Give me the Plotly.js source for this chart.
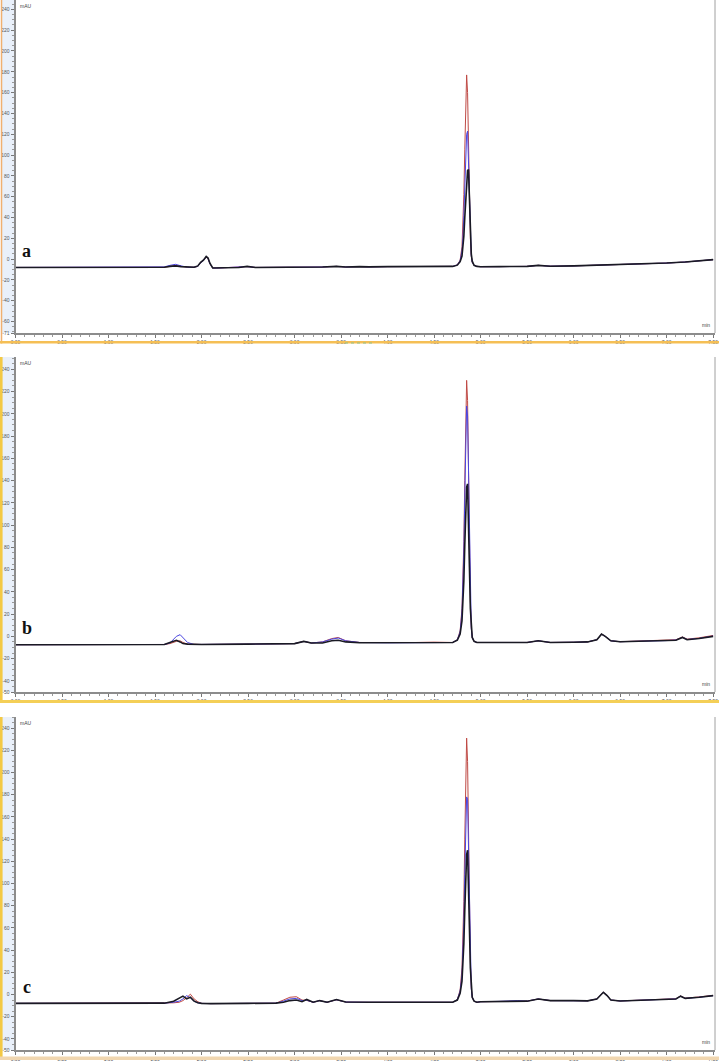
<!DOCTYPE html>
<html>
<head>
<meta charset="utf-8">
<script src="https://cdn.plot.ly/plotly-3.0.1.min.js"></script>
<style>
  html, body { margin: 0; padding: 0; background: #fff; }
  #chart { width: 719px; height: 1062px; }
</style>
</head>
<body>
<div id="chart"></div>
<script>
// retention time (min) grids, one per panel
var tA = [0, 0.5, 1.0, 1.5, 1.6, 1.66, 1.72, 1.78, 1.85, 1.92, 1.96, 1.99, 2.02, 2.05, 2.07, 2.09, 2.12, 2.16,
  2.25, 2.4, 2.49, 2.58, 2.8, 3.0, 3.3, 3.45, 3.55, 3.7, 3.8, 4.0, 4.2, 4.4, 4.6, 4.7, 4.75, 4.78, 4.8,
  4.81, 4.82, 4.83, 4.84, 4.85, 4.86, 4.87, 4.88, 4.89, 4.9, 4.91, 4.93, 4.96, 5.0, 5.2, 5.5, 5.62, 5.75,
  6.0, 6.25, 6.5, 6.75, 7.0, 7.2, 7.35, 7.5];
var redA = [-8, -8, -8, -8, -7.8, -7, -6, -7, -7.8, -7.8, -7, -3.5, -1.5, 2, 0.5, -4.5, -8.5, -8.6,
  -8.3, -8, -7.2, -8, -8, -7.8, -7.6, -7, -7.6, -7.2, -7.5, -7.2, -7.3, -7.2, -7.2, -7, -5.5, -1, 12,
  30, 62, 105, 150, 177, 160, 110, 55, 20, 3, -3, -6, -7, -7.3, -7.2, -7, -6, -6.8,
  -6.5, -6, -5.5, -4.8, -3.8, -2.8, -1.8, -0.5];
var blueA = [-8, -8, -8, -8, -7.5, -6, -5, -6.5, -7.8, -7.8, -7, -3.5, -1.5, 2.3, 0.5, -4.5, -8.5, -8.6,
  -8.3, -8, -7.2, -8, -8, -7.8, -7.6, -7, -7.6, -7.2, -7.5, -7.2, -7.3, -7.2, -7.2, -7, -5.5, -1.5, 8,
  20, 42, 72, 102, 120, 123, 95, 50, 18, 3, -3, -6, -7, -7.3, -7.2, -7, -6, -6.8,
  -6.5, -6, -5.5, -4.8, -3.8, -2.8, -1.8, -0.5];
var blackA = [-8, -8, -8, -8, -7.8, -7, -6.5, -7.2, -7.8, -7.8, -6.5, -3, -1, 2.5, 1, -4, -8.5, -8.6,
  -8.3, -8, -7, -8, -8, -7.8, -7.6, -7, -7.6, -7.2, -7.5, -7.2, -7.3, -7.2, -7.2, -7, -5.8, -2.5, 3,
  10, 22, 40, 60, 76, 85, 86, 55, 22, 5, -2, -6, -7, -7.3, -7.2, -7, -6, -6.8,
  -6.5, -6, -5.5, -4.8, -3.8, -2.8, -1.8, -0.5];

var tB = [0, 0.5, 1.0, 1.5, 1.6, 1.66, 1.7, 1.73, 1.77, 1.8, 1.85, 1.92, 2.0, 2.5, 3.0, 3.1, 3.18, 3.3,
  3.4, 3.47, 3.55, 3.7, 4.0, 4.3, 4.5, 4.6, 4.7, 4.75, 4.78, 4.8, 4.81, 4.82, 4.83, 4.84, 4.85, 4.86,
  4.87, 4.88, 4.89, 4.9, 4.91, 4.93, 4.96, 5.0, 5.2, 5.4, 5.5, 5.62, 5.75, 6.0, 6.15, 6.25, 6.3, 6.34,
  6.4, 6.5, 6.75, 7.0, 7.1, 7.17, 7.22, 7.35, 7.5];
var redB = [-7.5, -7.5, -7.5, -7.5, -7.3, -6.5, -5, -4.5, -4, -5.5, -7, -7.3, -7.3, -7, -6.5, -4.5, -6, -5,
  -2, -1, -4, -5.5, -5.8, -5.5, -5.2, -5.5, -5.5, -3, 5, 25, 48, 85, 140, 195, 230, 212,
  150, 80, 32, 8, -1, -4.5, -5.5, -5.5, -5.5, -5, -5.5, -4, -5.5, -5.3, -5, -3, 2, 0,
  -4, -4.8, -4.3, -3.5, -3, -0.5, -2.5, -1.3, 0.8];
var blueB = [-7.5, -7.5, -7.5, -7.5, -7.3, -6, -3, 0, 1.5, -1, -5.5, -7.3, -7.3, -7, -6.5, -4.5, -6, -5,
  -2.5, -1.5, -4, -5.5, -5.8, -5.5, -5.2, -5.5, -5.5, -3, 4, 22, 42, 75, 125, 175, 207, 198,
  145, 78, 30, 7, -1, -4.5, -5.5, -5.5, -5.5, -5, -5.5, -4, -5.5, -5.3, -5, -3, 2, 0,
  -4, -4.8, -4.5, -3.8, -3.3, -0.8, -2.8, -1.8, 0.3];
var blackB = [-7.5, -7.5, -7.5, -7.5, -7.3, -5.5, -4, -3.5, -5, -6.5, -7, -7.3, -7.3, -7, -6.5, -4.5, -6, -6,
  -4, -3.5, -5, -5.8, -5.8, -5.5, -5.2, -5.5, -5.5, -3.5, 2, 14, 28, 50, 82, 115, 134, 137,
  110, 62, 25, 6, -1, -4.5, -5.5, -5.5, -5.5, -5, -5.5, -4, -5.5, -5.3, -5, -3, 2, 0,
  -4, -4.8, -4.5, -4, -3.5, -1, -3, -2, 0];

var tC = [0, 0.5, 1.0, 1.5, 1.6, 1.7, 1.76, 1.8, 1.84, 1.88, 1.92, 1.96, 2.0, 2.1, 2.5, 2.8, 2.88, 2.95,
  3.02, 3.08, 3.13, 3.2, 3.27, 3.35, 3.45, 3.55, 3.8, 4.2, 4.6, 4.7, 4.75, 4.78, 4.8, 4.81, 4.82, 4.83,
  4.84, 4.85, 4.86, 4.87, 4.88, 4.89, 4.9, 4.91, 4.93, 4.96, 5.0, 5.2, 5.4, 5.5, 5.62, 5.75, 6.0, 6.15,
  6.25, 6.3, 6.32, 6.36, 6.4, 6.5, 6.75, 7.0, 7.1, 7.15, 7.2, 7.35, 7.5];
var redC = [-8, -8, -8, -8, -7.8, -7.5, -7, -5.5, -3, 0.3, -4, -6.5, -8, -8.2, -8, -7.8, -5, -2.5,
  -2, -5, -5.3, -7, -5.5, -7, -4.8, -6.8, -7, -6.8, -6.8, -7, -4.5, 4, 24, 47, 84, 140,
  196, 231, 210, 148, 78, 30, 6, -2.5, -6, -7, -6.5, -6.2, -5.5, -6, -4, -5.5, -5.5, -5.7,
  -4, 1, 2, -1, -5, -5.8, -5, -4.3, -3.8, -1.3, -3.3, -2.2, -0.8];
var blueC = [-8, -8, -8, -8, -7.8, -7, -6, -4, -1, -3, -6, -7.5, -8, -8.2, -8, -7.8, -6, -4,
  -3.5, -5.5, -5.2, -7, -5.5, -7, -4.7, -6.8, -7, -6.8, -6.8, -7, -4.5, 3, 18, 36, 65, 108,
  152, 178, 176, 130, 70, 27, 5, -2.5, -6, -7, -6.5, -6.2, -5.5, -6, -4, -5.5, -5.5, -5.7,
  -4, 1, 2, -1, -5, -5.8, -5, -4.5, -4, -1.5, -3.5, -2.5, -1];
var blackC = [-8, -8, -8, -8, -7.8, -6, -3, -1.5, -4, -2.5, -6, -7.5, -8, -8.2, -8, -7.8, -7, -5.5,
  -5, -6.5, -4.5, -7, -5.5, -7, -4.5, -6.8, -7, -6.8, -6.8, -7, -5, 1, 12, 25, 46, 76,
  108, 126, 130, 105, 60, 24, 5, -2.5, -6, -7, -6.5, -6.2, -5.5, -6, -4, -5.5, -5.5, -5.7,
  -4, 1, 2, -1, -5, -5.8, -5, -4.5, -4, -1.5, -3.5, -2.5, -1];

var xTicks = [0, 0.5, 1, 1.5, 2, 2.5, 3, 3.5, 4, 4.5, 5, 5.5, 6, 6.5, 7, 7.5];
var yTicksA = [-71, -60, -40, -20, 0, 20, 40, 60, 80, 100, 120, 140, 160, 180, 200, 220, 240];
var yTicksBC = [-50, -40, -20, 0, 20, 40, 60, 80, 100, 120, 140, 160, 180, 200, 220, 240];
var panelLetters = ['a', 'b', 'c'];

var RED = '#bf4a45', BLUE = '#4a45e0', BLACK = '#1a1a24';
var W = 719, H = 1062;
function px(p) { return p / W; }
function py(p) { return 1 - p / H; }

var panels = [
  {t: tA, r: redA, b: blueA, k: blackA, top: 0, bot: 333, range: [-71, 249], ticks: yTicksA},
  {t: tB, r: redB, b: blueB, k: blackB, top: 357, bot: 692, range: [-50, 251], ticks: yTicksBC},
  {t: tC, r: redC, b: blueC, k: blackC, top: 717, bot: 1050, range: [-50, 250], ticks: yTicksBC}
];

var data = [];
var layout = {
  width: W, height: H,
  margin: {l: 0, r: 0, t: 0, b: 0},
  paper_bgcolor: '#fff', plot_bgcolor: '#fff',
  showlegend: false,
  font: {family: 'Liberation Sans, Arial, sans-serif', size: 5, color: '#555'},
  shapes: [], annotations: []
};

panels.forEach(function (p, i) {
  var n = i === 0 ? '' : String(i + 1);
  var xa = 'x' + n, ya = 'y' + n;
  [[p.r, RED, 1], [p.b, BLUE, 1], [p.k, BLACK, 1.6]].forEach(function (s) {
    data.push({x: p.t, y: s[0], xaxis: xa, yaxis: ya, type: 'scatter', mode: 'lines',
      line: {color: s[1], width: s[2]}, hoverinfo: 'skip'});
  });
  layout['xaxis' + n] = {
    domain: [px(15.5), px(715)], range: [0, 7.52], anchor: ya,
    tickmode: 'array', tickvals: xTicks, ticktext: xTicks.map(function (v) { return v.toFixed(2); }),
    ticks: 'outside', ticklen: 3, tickwidth: 1, tickcolor: '#777',
    minor: {tickmode: 'linear', tick0: 0, dtick: 0.1, ticks: 'outside', ticklen: 2, tickcolor: '#999'},
    showline: true, linecolor: '#8c8c8c', linewidth: 2,
    showgrid: false, zeroline: false, tickfont: {size: 5, color: '#555'}
  };
  layout['yaxis' + n] = {
    domain: [py(p.bot), py(p.top)], range: p.range, anchor: xa,
    tickmode: 'array', tickvals: p.ticks, ticktext: p.ticks.map(String),
    ticks: 'outside', ticklen: 3, tickwidth: 1, tickcolor: '#777',
    minor: {tickmode: 'linear', tick0: 0, dtick: 5, ticks: 'outside', ticklen: 2, tickcolor: '#999'},
    showline: true, linecolor: '#8c8c8c', linewidth: 2,
    showgrid: false, zeroline: false, tickfont: {size: 5, color: '#555'}
  };

  // left light-blue strip, left edge line, right border, bottom band
  var bandTop = i === 0 ? 341 : (i === 1 ? 700 : 1056.5);
  var bandBot = i === 0 ? 343.5 : (i === 1 ? 703 : 1060);
  var bandCol = i === 0 ? '#f5bf55' : (i === 1 ? '#f4cf57' : '#f0d6b0');
  layout.shapes.push(
    {type: 'rect', xref: 'paper', yref: 'paper', x0: px(2), x1: px(14), y0: py(p.bot), y1: py(p.top),
      fillcolor: '#e9f0fa', line: {width: 0}, layer: 'below'},
    {type: 'line', xref: 'paper', yref: 'paper', x0: px(i === 0 ? 1.5 : 1.3), x1: px(i === 0 ? 1.5 : 1.3),
      y0: py(bandBot), y1: py(p.top), line: {color: i === 0 ? '#f0b070' : '#f3c945', width: i === 0 ? 1.5 : 2.6}},
    {type: 'line', xref: 'paper', yref: 'paper', x0: px(715), x1: px(715), y0: py(p.bot), y1: py(p.top),
      line: {color: '#a0a0a0', width: 1}},
    {type: 'rect', xref: 'paper', yref: 'paper', x0: 0, x1: 1, y0: py(bandBot), y1: py(bandTop),
      fillcolor: bandCol, line: {width: 0}}
  );

  layout.annotations.push(
    {xref: 'paper', yref: 'paper', x: px(18), y: py(p.top + 1), xanchor: 'left', yanchor: 'top',
      text: 'mAU', showarrow: false, font: {size: 5, color: '#444'}},
    {xref: 'paper', yref: 'paper', x: px(712), y: py(p.bot - 3), xanchor: 'right', yanchor: 'bottom',
      text: 'min', showarrow: false, font: {size: 5, color: '#444'}},
    {xref: xa, yref: ya, x: 0.12, y: 0, xanchor: 'center', yanchor: 'bottom', yshift: -4,
      text: '<b>' + panelLetters[i] + '</b>', showarrow: false,
      font: {family: 'Liberation Serif, Times New Roman, serif', size: 18, color: '#111'}}
  );
});

// small green marker under the first panel's axis
layout.shapes.push({type: 'line', xref: 'paper', yref: 'paper', x0: px(345), x1: px(375),
  y0: py(343), y1: py(343), line: {color: '#8fc08a', width: 1, dash: 'dot'}});

Plotly.newPlot('chart', data, layout, {displayModeBar: false, staticPlot: true});
</script>
</body>
</html>
